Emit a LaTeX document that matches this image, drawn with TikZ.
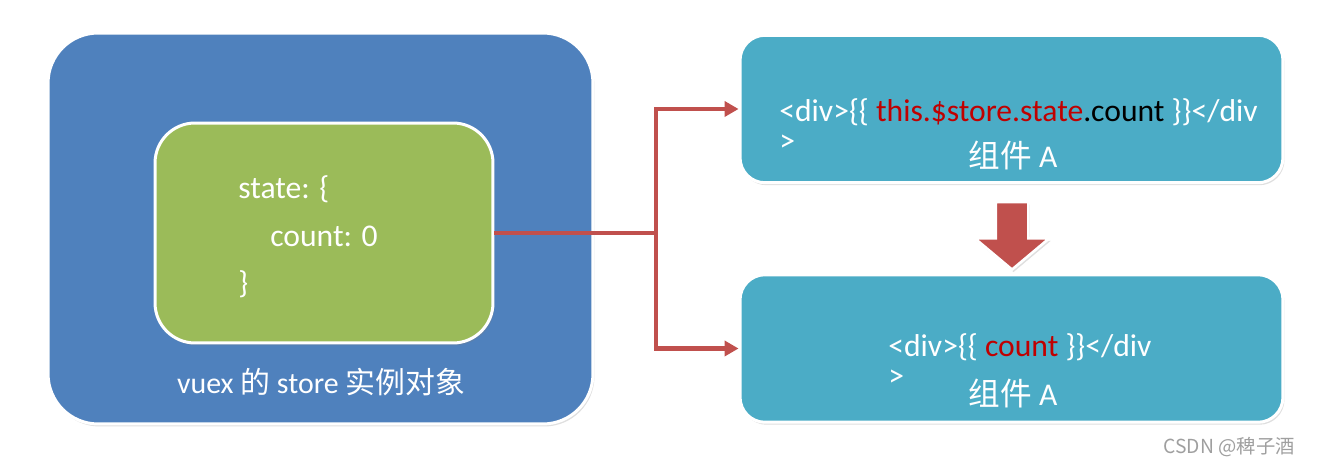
\documentclass[tikz,border=0pt]{standalone}
\usepackage{fontspec}
\setmainfont{Carlito}
\newfontfamily\cjk{Noto Sans CJK SC}
\usepackage{tikz}
\usetikzlibrary{arrows.meta, positioning, shapes.arrows, shadows}

\definecolor{storeblue}{HTML}{4F81BD}
\definecolor{stategreen}{HTML}{9BBB59}
\definecolor{compcyan}{HTML}{4BACC6}
\definecolor{linkred}{HTML}{C0504D}
\definecolor{codered}{HTML}{C00000}

\begin{document}
\begin{tikzpicture}[x=0.02cm, y=-0.02cm, >={Triangle[length=0.28cm, width=0.3cm]},
    every node/.style={font=\fontsize{18}{17}\selectfont, text=white},
    panel/.style={rectangle, draw=white, line width=1.7pt, drop shadow={opacity=0.25, shadow xshift=0.03cm, shadow yshift=-0.05cm}},
    storebox/.style={panel, fill=storeblue, rounded corners=1cm, minimum width=10.9cm, minimum height=7.82cm},
    statebox/.style={panel, fill=stategreen, rounded corners=0.8cm, minimum width=6.76cm, minimum height=4.4cm},
    compbox/.style={panel, fill=compcyan, rounded corners=0.5cm, minimum width=10.86cm, minimum height=2.95cm},
    code/.style={align=left, anchor=west, inner sep=0pt},
    link/.style={draw=linkred, line width=2.3pt},
]
\useasboundingbox (0,0) rectangle (1317,465);

% store with its state
\node[storebox] (store) at (320.5,228.5) {};
\node[statebox] (state) at (324,233) {};
\node[code, font=\fontsize{18}{27}\selectfont] (stateText) at (238,237)
    {state: \{\\\hspace*{0.64cm}count: 0\\\}};
\node[font=\fontsize{17}{17}\selectfont] (storeLabel) at (321,382) {vuex {\cjk 的} store {\cjk 实例对象}};

% the two components
\node[compbox] (compA) at (1011.5,109) {};
\node[compbox] (compB) at (1011.5,348.5) {};
\node[code] (codeA) at (779,125)
    {<div>\{\{ \textcolor{codered}{this.\$store.state}\textcolor{black}{.count} \}\}</div\\>};
\node (labelA) at (1013,155) {{\cjk 组件} A};
\node[code] (codeB) at (888,360)
    {<div>\{\{ \textcolor{codered}{count} \}\}</div\\>};
\node (labelB) at (1013,393) {{\cjk 组件} A};

\node[single arrow, fill=linkred, draw=white, line width=1.5pt, rotate=-90,
    minimum height=1.35cm, inner xsep=0pt, inner ysep=0.3cm, single arrow head extend=0.42cm,
    single arrow tip angle=100,
    drop shadow={opacity=0.25, shadow xshift=0.03cm, shadow yshift=-0.05cm}] (next) at (1012,229) {};

% connectors
\draw[link] (state.east) -- ++(162,0) coordinate (split);
\draw[link, ->] (split) |- (compA.west);
\draw[link, ->] (split) |- (compB.west);

\node[anchor=east, text=gray!75, font=\cjk\fontsize{11}{13}\selectfont] (mark) at (1301,447) {CSDN @稗子酒};

\end{tikzpicture}
\end{document}
